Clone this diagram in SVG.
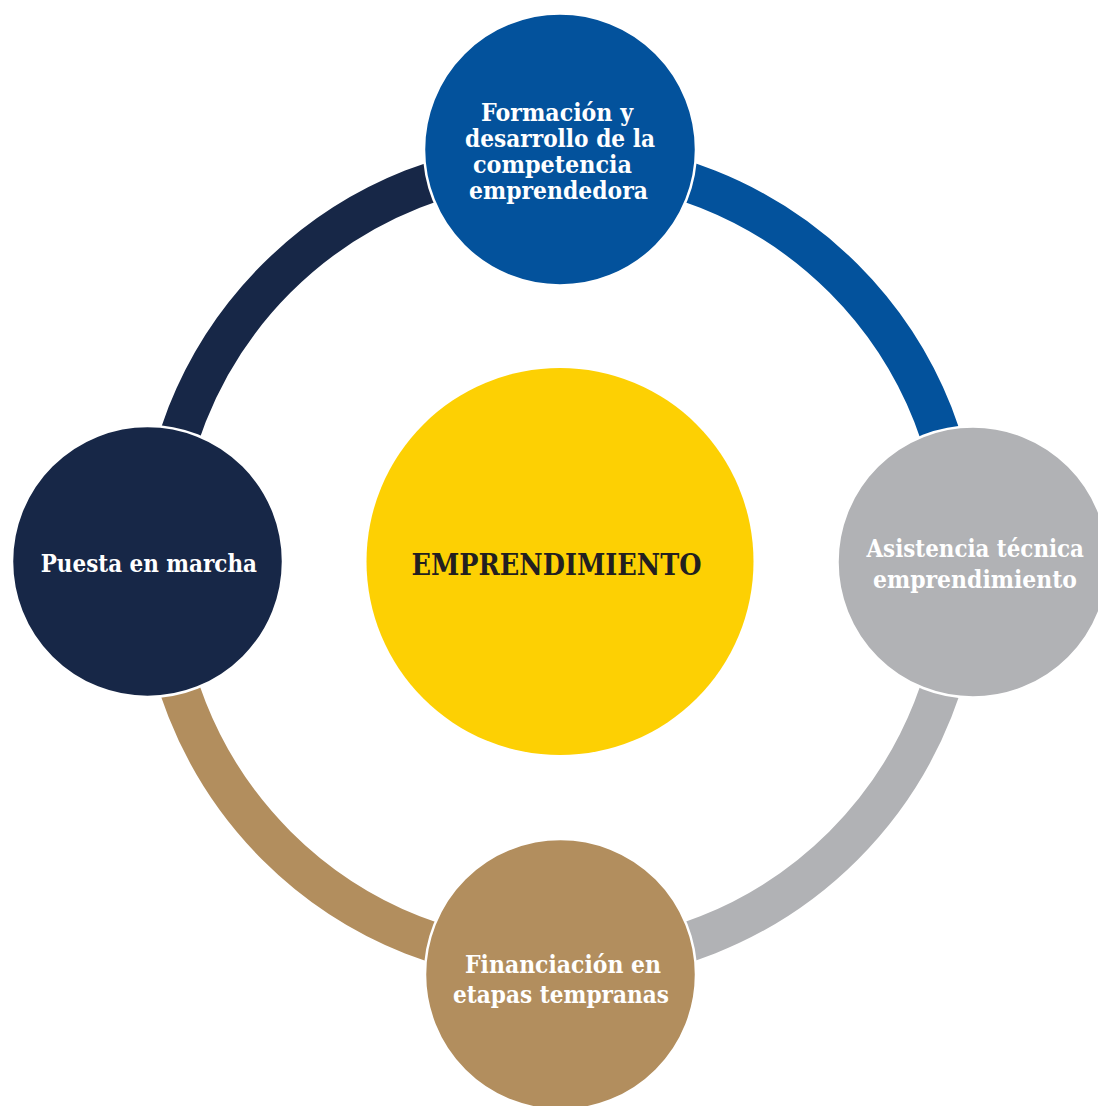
<svg xmlns="http://www.w3.org/2000/svg" width="1098" height="1106" viewBox="0 0 1098 1106">
  <style>
    .seg { fill: none; stroke-width: 40; stroke-linecap: butt; }
    .node { stroke: #ffffff; stroke-width: 2.5; }
    .lbl { font-family: "DejaVu Serif", "Liberation Serif", serif; font-weight: bold; font-size: 25px; fill: #ffffff; }
    .ctr { font-family: "DejaVu Serif", "Liberation Serif", serif; font-weight: bold; font-size: 30px; fill: #231f20; }
  </style>
  <rect width="1098" height="1106" fill="#ffffff"/>
  <g id="connectors">
    <path class="seg" stroke="#172747" d="M159,562 A401,401 0 0 1 560,161"/>
    <path class="seg" stroke="#03529c" d="M560,161 A401,401 0 0 1 961,562"/>
    <path class="seg" stroke="#b1b2b5" d="M961,562 A401,401 0 0 1 560,963"/>
    <path class="seg" stroke="#b28e5e" d="M560,963 A401,401 0 0 1 159,562"/>
  </g>
  <g id="node-center">
    <circle cx="560" cy="561.5" r="193.5" fill="#fdd003"/>
    <text class="ctr" x="411.5" y="575" textLength="290" lengthAdjust="spacingAndGlyphs">EMPRENDIMIENTO</text>
  </g>
  <g id="node-top">
    <circle class="node" cx="560" cy="149.5" r="136" fill="#03529c"/>
    <text class="lbl" x="481" y="121" textLength="152" lengthAdjust="spacingAndGlyphs">Formación y</text>
    <text class="lbl" x="465" y="147" textLength="190" lengthAdjust="spacingAndGlyphs">desarrollo de la</text>
    <text class="lbl" x="473" y="173" textLength="159" lengthAdjust="spacingAndGlyphs">competencia</text>
    <text class="lbl" x="469" y="199" textLength="179" lengthAdjust="spacingAndGlyphs">emprendedora</text>
  </g>
  <g id="node-right">
    <circle class="node" cx="973" cy="562" r="135.5" fill="#b1b2b5"/>
    <text class="lbl" x="866.5" y="557" textLength="217.5" lengthAdjust="spacingAndGlyphs">Asistencia técnica</text>
    <text class="lbl" x="873" y="588" textLength="204" lengthAdjust="spacingAndGlyphs">emprendimiento</text>
  </g>
  <g id="node-bottom">
    <circle class="node" cx="560.5" cy="974.5" r="135.5" fill="#b28e5e"/>
    <text class="lbl" x="465" y="973" textLength="196" lengthAdjust="spacingAndGlyphs">Financiación en</text>
    <text class="lbl" x="453" y="1003" textLength="216" lengthAdjust="spacingAndGlyphs">etapas tempranas</text>
  </g>
  <g id="node-left">
    <circle class="node" cx="147.5" cy="561.5" r="135.5" fill="#172747"/>
    <text class="lbl" x="40.7" y="572" textLength="216.3" lengthAdjust="spacingAndGlyphs">Puesta en marcha</text>
  </g>
</svg>
